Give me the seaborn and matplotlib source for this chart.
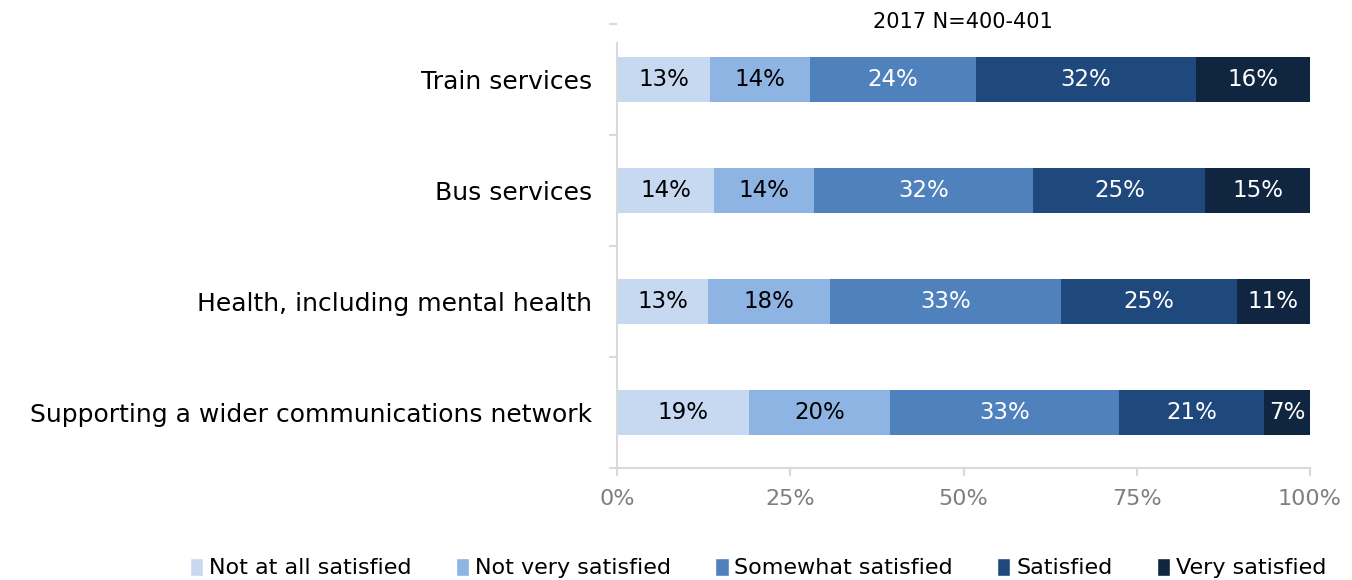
import numpy as np
import pandas as pd
import matplotlib
matplotlib.use("Agg")
import matplotlib.pyplot as plt
from matplotlib.patches import Patch
import seaborn as sns

# data (percent of respondents)
categories = [
    "Train services",
    "Bus services",
    "Health, including mental health",
    "Supporting a wider communications network",
]
levels = ["Not at all satisfied", "Not very satisfied", "Somewhat satisfied",
          "Satisfied", "Very satisfied"]
not_at_all = [13.4, 14.0, 13.1, 19.1]
not_very = [14.4, 14.4, 17.6, 20.3]
somewhat = [24.0, 31.7, 33.4, 33.1]
satisfied = [31.7, 24.8, 25.3, 20.9]
very_satisfied = [16.5, 15.1, 10.6, 6.6]
x_ticks = [0, 25, 50, 75, 100]
title = "2017 N=400-401"

colors = ["#C6D9F0", "#8EB4E3", "#4F81BD", "#1F497D", "#10253F"]
text_colors = ["#000000", "#000000", "#FFFFFF", "#FFFFFF", "#FFFFFF"]
grey = "#D9D9D9"

df = pd.DataFrame({"category": categories})
for name, vals in zip(levels, [not_at_all, not_very, somewhat, satisfied, very_satisfied]):
    df[name] = vals
cum = df[levels].cumsum(axis=1)

sns.set_style("white")
plt.rcParams["font.family"] = ["DejaVu Sans"]
plt.rcParams["text.color"] = "black"
plt.rcParams["ytick.labelcolor"] = "black"

fig, ax = plt.subplots(figsize=(13.52, 5.8), dpi=100)
fig.subplots_adjust(left=0.4564, right=0.9689, top=0.9586, bottom=0.1931)

# stacked bars: draw cumulative totals from the outermost segment inwards
for i in reversed(range(len(levels))):
    sns.barplot(x=cum[levels[i]], y=df["category"], orient="h", color=colors[i],
                saturation=1, width=0.405, linewidth=0, ax=ax)

# segment labels
for i, name in enumerate(levels):
    for j in range(len(categories)):
        val = df[name].iloc[j]
        center = cum[name].iloc[j] - val / 2
        ax.text(center, j, f"{val:.0f}%", ha="center", va="center",
                color=text_colors[i], fontsize=16.5)

ax.set_xlim(0, 100)
ax.set_ylim(len(categories) - 0.5, -0.5)
ax.set_xticks(x_ticks)
ax.set_xticklabels([f"{t}%" for t in x_ticks])
ax.set_xlabel("")
ax.set_ylabel("")
ax.set_yticks(np.arange(-0.5, len(categories)), minor=True)

for s in ["top", "right"]:
    ax.spines[s].set_visible(False)
for s in ["left", "bottom"]:
    ax.spines[s].set_color(grey)
    ax.spines[s].set_linewidth(1.5)
ax.spines["left"].set_bounds(-0.33, len(categories) - 0.5)

ax.tick_params(axis="x", which="major", direction="out", length=6, width=1.5,
               color=grey, labelcolor="#7F7F7F", labelsize=16, pad=9, bottom=True)
ax.tick_params(axis="y", which="major", length=0, labelsize=18, labelcolor="black", pad=18)
ax.tick_params(axis="y", which="minor", direction="out", length=6, width=1.5,
               color=grey, left=True)

fig.text(963 / 1352, 1 - 22 / 580, title, ha="center", va="center", fontsize=15)

handles = [Patch(facecolor=c, label=l) for c, l in zip(colors, levels)]
fig.legend(handles=handles, loc="center", bbox_to_anchor=(758 / 1352, 1 - 568 / 580),
           ncol=5, frameon=False, fontsize=16, handlelength=0.6, handleheight=0.9,
           handletextpad=0.25, columnspacing=2.0)

fig.savefig("out.png", dpi=100)
